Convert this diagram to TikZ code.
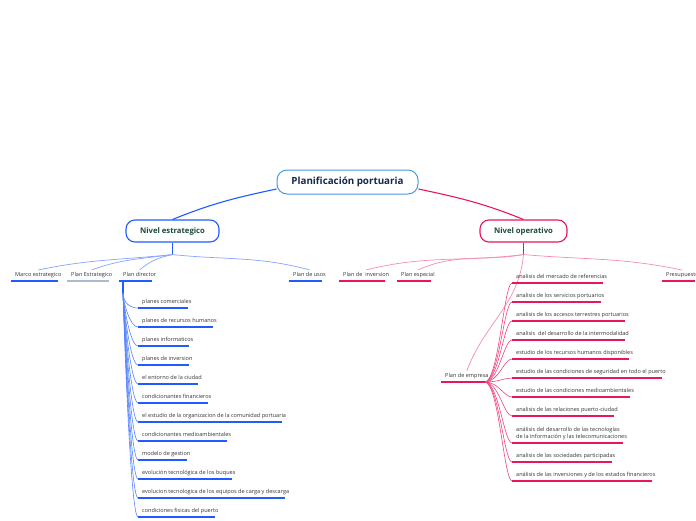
\documentclass[tikz,border=0pt]{standalone}
\usepackage{fontspec}
\setmainfont{Open Sans}
\usepackage{tikz}
\usetikzlibrary{positioning, calc, backgrounds}
\definecolor{rootBlue}{HTML}{4A9AE0}
\definecolor{rootText}{HTML}{14284B}
\definecolor{estBlue}{HTML}{1F5BFF}
\definecolor{estFan}{HTML}{86A3FF}
\definecolor{opRed}{HTML}{E6175C}
\definecolor{opFan}{HTML}{F28DB0}
\definecolor{lvlText}{HTML}{1C4A3A}
\definecolor{bodyText}{HTML}{333333}
\definecolor{paleSteel}{HTML}{A8BCD2}

\begin{document}
\begin{tikzpicture}[x=1pt, y=1pt,
      every node/.style={font=\fontsize{5.55}{7.2}\selectfont, text=bodyText},
      rootbox/.style={rectangle, rounded corners=10pt, draw=rootBlue, line width=1pt, fill=white,
                      minimum width=141pt, minimum height=24pt, text=rootText,
                      font=\fontsize{9.8}{11}\selectfont\bfseries},
      lvlbox/.style={rectangle, rounded corners=9pt, line width=1.1pt, fill=white,
                     minimum height=22pt, text=lvlText, font=\fontsize{7.7}{9}\selectfont\bfseries},
      leaf/.style={anchor=south west, inner xsep=0pt, inner ysep=2.5pt, text depth=1.5pt, align=left,
                   append after command={([xshift=-4pt]\tikzlastnode.south west)
                     edge[draw=#1, line width=1.3pt] ([xshift=-4pt]\tikzlastnode.south east)}},
      pdleaf/.style={leaf=estBlue},
      peleaf/.style={leaf=opRed},
      estfan/.style={draw=estFan, line width=0.7pt},
      opfan/.style={draw=opFan, line width=0.7pt},
      pdfan/.style={draw=estBlue!75, line width=0.6pt},
      pefan/.style={draw=opRed!80, line width=0.6pt},
    ]
      \useasboundingbox (0,0) rectangle (696,-520);

      \node[rootbox] (root) at (347.5,-182) {Planificación portuaria};
      \node[lvlbox, draw=estBlue, minimum width=93pt] (est) at (172.5,-231) {Nivel estrategico};
      \node[lvlbox, draw=opRed, minimum width=87pt] (op) at (523.5,-231) {Nivel operativo};

      % nivel estrategico
      \node[leaf=estBlue] (me) at (15,-281) {Marco estrategico};
      \node[leaf=paleSteel] (pest) at (71,-281) {Plan Estrategico};
      \node[leaf=estBlue] (pd) at (123,-281) {Plan director};
      \node[leaf=estBlue] (pu) at (293,-281) {Plan de usos};

      % plan director
      \node[pdleaf] (pd1) at (142,-308) {planes comerciales};
      \node[pdleaf, below=19pt of pd1.south west, anchor=south west] (pd2) {planes de recursos humanos};
      \node[pdleaf, below=19pt of pd2.south west, anchor=south west] (pd3) {planes informaticos};
      \node[pdleaf, below=19pt of pd3.south west, anchor=south west] (pd4) {planes de inversion};
      \node[pdleaf, below=19pt of pd4.south west, anchor=south west] (pd5) {el entorno de la ciudad};
      \node[pdleaf, below=19pt of pd5.south west, anchor=south west] (pd6) {condicionantes financieros};
      \node[pdleaf, below=19pt of pd6.south west, anchor=south west] (pd7) {el estudio de la organizacion de la comunidad portuaria};
      \node[pdleaf, below=19pt of pd7.south west, anchor=south west] (pd8) {condicionantes medioambientales};
      \node[pdleaf, below=19pt of pd8.south west, anchor=south west] (pd9) {modelo de gestion};
      \node[pdleaf, below=19pt of pd9.south west, anchor=south west] (pd10) {evolución tecnológica de los buques};
      \node[pdleaf, below=19pt of pd10.south west, anchor=south west] (pd11) {evolucion tecnologica de los equipos de carga y descarga};
      \node[pdleaf, below=19pt of pd11.south west, anchor=south west] (pd12) {condiciones fisicas del puerto};

      % nivel operativo
      \node[leaf=opRed] (pi) at (343,-281) {Plan de~ inversion};
      \node[leaf=opRed] (pes) at (401,-281) {Plan especial};
      \node[leaf=opRed] (pr) at (666,-281) {Presupuesto};
      \node[leaf=opRed] (pe) at (445,-382) {Plan de empresa};

      % plan de empresa
      \node[peleaf] (pe1) at (516,-283) {analisis del mercado de referencias};
      \node[peleaf, below=19pt of pe1.south west, anchor=south west] (pe2) {analisis de los servicios portuarios};
      \node[peleaf, below=19pt of pe2.south west, anchor=south west] (pe3) {analisis de los accesos terrestres portuarios};
      \node[peleaf, below=19pt of pe3.south west, anchor=south west] (pe4) {analisis~ del desarrollo de la intermodalidad};
      \node[peleaf, below=19pt of pe4.south west, anchor=south west] (pe5) {estudio de los recursos humanos disponibles};
      \node[peleaf, below=19pt of pe5.south west, anchor=south west] (pe6) {estudio de las condiciones de seguridad en todo el puerto};
      \node[peleaf, below=19pt of pe6.south west, anchor=south west] (pe7) {estudio de las condiciones medioambientales};
      \node[peleaf, below=19pt of pe7.south west, anchor=south west] (pe8) {analisis de las relaciones puerto-ciudad};
      \node[peleaf, below=27pt of pe8.south west, anchor=south west] (pe9) {análisis del desarrollo de las tecnologías\\de la información y las telecomunicaciones};
      \node[peleaf, below=19pt of pe9.south west, anchor=south west] (pe10) {analisis de las sociedades participadas};
      \node[peleaf, below=19pt of pe10.south west, anchor=south west] (pe11) {análisis de las inversiones y de los estados financieros};

      % connectors
      \begin{scope}[on background layer]
        \draw[estBlue, line width=1.1pt] ([yshift=-7pt]root.west) to[out=192, in=22] (est.north);
        \draw[opRed, line width=1.1pt] ([yshift=-7pt]root.east) to[out=-12, in=158] (op.north);

        \coordinate (esthub) at ([yshift=-12pt]est.south);
        \draw[estBlue, line width=1.1pt] (est.south) -- (esthub);
        \draw[estfan] (esthub) to[out=186, in=12] (me.north);
        \draw[estfan] (esthub) to[out=188, in=20] (pest.north);
        \draw[estfan] (esthub) to[out=192, in=40] (pd.north);
        \draw[estfan] (esthub) to[out=-6, in=165] (pu.north);

        \coordinate (ophub) at ([yshift=-12pt]op.south);
        \draw[opRed, line width=1.1pt] (op.south) -- (ophub);
        \draw[opfan] (ophub) to[out=187, in=14] (pi.north);
        \draw[opfan] (ophub) to[out=190, in=24] (pes.north);
        \draw[opfan] (ophub) to[out=-5, in=168] (pr.north);
        \draw[opfan] (ophub) to[out=-95, in=70] (pe.north);

        \coordinate (pdhub) at ([yshift=-12pt]pd.south west);
        \draw[estBlue, line width=1.8pt] (pd.south west) -- (pdhub);
        \foreach \i in {1,...,12}
          \draw[pdfan] (pdhub) to[out=-88, in=180, out distance=10pt, in distance=8pt] ([xshift=-4pt]pd\i.south west);

        \coordinate (pehub) at ([xshift=-4pt]pe.south east);
        \foreach \i in {1,...,11}
          \draw[pefan] (pehub) to[out=0, in=180, out distance=14pt, in distance=8pt] ([xshift=-4pt]pe\i.south west);
      \end{scope}

    \end{tikzpicture}
\end{document}
